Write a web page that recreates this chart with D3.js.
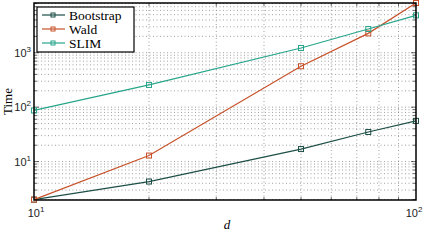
<!DOCTYPE html>
<html>
<head>
<meta charset="utf-8">
<script src="https://cdn.jsdelivr.net/npm/d3@7"></script>
<style>
  body { margin: 0; background: #fff; }
  svg { display: block; }
</style>
</head>
<body>
<svg id="chart" width="424" height="240"></svg>
<script>
// values
var dims = [10, 20, 50, 75, 100];
var seriesNames = ['Bootstrap', 'Wald', 'SLIM'];
var bootstrapTimes = [2, 4.3, 17, 35, 56];
var waldTimes = [2, 12.9, 565, 2270, 8200];
var slimTimes = [87, 256, 1220, 2730, 4860];
var seriesColors = ['#1d4f47', '#c8522a', '#27a58a'];
var xTicks = [10, 100];
var yTicks = [10, 100, 1000];

var svg = d3.select('#chart');
var padding = {t: 3, r: 8, b: 40, l: 34};
var chartWidth = 424 - padding.l - padding.r;
var chartHeight = 240 - padding.t - padding.b;

var xScale = d3.scaleLog().domain([10, 100]).range([0, chartWidth]);
var yScale = d3.scaleLog().domain([1.97, 8200]).range([chartHeight, 0]);

var chartG = svg.append('g')
    .attr('transform', 'translate(' + [padding.l, padding.t] + ')');

// dotted grid on every minor tick
var xGrid = [];
for (var i = 2; i <= 9; i++) xGrid.push(i * 10);
var yGrid = [];
[1, 10, 100, 1000].forEach(function(dec) {
    for (var k = 1; k <= 9; k++) {
        var v = k * dec;
        if (v > yScale.domain()[0] && v < yScale.domain()[1]) yGrid.push(v);
    }
});

chartG.selectAll('.vgrid').data(xGrid).enter().append('line')
    .attr('x1', function(d) { return xScale(d); })
    .attr('x2', function(d) { return xScale(d); })
    .attr('y1', 0).attr('y2', chartHeight)
    .attr('stroke', '#888').attr('stroke-width', 0.8)
    .attr('stroke-dasharray', '1,2.5');

chartG.selectAll('.hgrid').data(yGrid).enter().append('line')
    .attr('x1', 0).attr('x2', chartWidth)
    .attr('y1', function(d) { return yScale(d); })
    .attr('y2', function(d) { return yScale(d); })
    .attr('stroke', '#888').attr('stroke-width', 0.8)
    .attr('stroke-dasharray', '1,2.5');

// small inward ticks on all four sides
var xTickVals = xGrid;
var yTickVals = yGrid;
chartG.selectAll('.xtb').data(xTickVals).enter().append('line')
    .attr('x1', function(d) { return xScale(d); }).attr('x2', function(d) { return xScale(d); })
    .attr('y1', chartHeight).attr('y2', function(d) { return chartHeight - 3; })
    .attr('stroke', '#000').attr('stroke-width', 0.6);
chartG.selectAll('.xtt').data(xTickVals).enter().append('line')
    .attr('x1', function(d) { return xScale(d); }).attr('x2', function(d) { return xScale(d); })
    .attr('y1', 0).attr('y2', 3)
    .attr('stroke', '#000').attr('stroke-width', 0.6);
chartG.selectAll('.ytl').data(yTickVals).enter().append('line')
    .attr('y1', function(d) { return yScale(d); }).attr('y2', function(d) { return yScale(d); })
    .attr('x1', 0).attr('x2', function(d) { return yTicks.indexOf(d) >= 0 ? 5 : 3; })
    .attr('stroke', '#000').attr('stroke-width', 0.6);
chartG.selectAll('.ytr').data(yTickVals).enter().append('line')
    .attr('y1', function(d) { return yScale(d); }).attr('y2', function(d) { return yScale(d); })
    .attr('x1', chartWidth).attr('x2', function(d) { return chartWidth - (yTicks.indexOf(d) >= 0 ? 5 : 3); })
    .attr('stroke', '#000').attr('stroke-width', 0.6);

// series lines
var allSeries = [bootstrapTimes, waldTimes, slimTimes];
var line = d3.line()
    .x(function(d, i) { return xScale(dims[i]); })
    .y(function(d) { return yScale(d); });

allSeries.forEach(function(vals, s) {
    chartG.append('path')
        .datum(vals)
        .attr('d', line)
        .attr('fill', 'none')
        .attr('stroke', seriesColors[s])
        .attr('stroke-width', 1.2);
    chartG.selectAll('.m' + s).data(vals).enter().append('rect')
        .attr('x', function(d, i) { return xScale(dims[i]) - 2.5; })
        .attr('y', function(d) { return yScale(d) - 2.5; })
        .attr('width', 5).attr('height', 5)
        .attr('fill', 'none')
        .attr('stroke', seriesColors[s])
        .attr('stroke-width', 1);
});

// frame
chartG.append('rect')
    .attr('width', chartWidth).attr('height', chartHeight)
    .attr('fill', 'none').attr('stroke', '#000').attr('stroke-width', 1.5);

// tick labels with superscripts
function powLabel(sel, v) {
    var e = Math.round(Math.log10(v));
    sel.append('tspan').text('10');
    sel.append('tspan').attr('dy', -5).attr('font-size', '8px').text(e);
}

yTicks.forEach(function(v) {
    var t = svg.append('text')
        .attr('x', padding.l - 3)
        .attr('y', padding.t + yScale(v) + 4)
        .attr('text-anchor', 'end')
        .attr('font-family', 'Liberation Sans, Arial, sans-serif')
        .attr('font-size', '11px')
        .attr('fill', '#222');
    powLabel(t, v);
});

xTicks.forEach(function(v, i) {
    var t = svg.append('text')
        .attr('x', padding.l + xScale(v) + (i === 0 ? 2 : -2))
        .attr('y', padding.t + chartHeight + 17)
        .attr('text-anchor', 'middle')
        .attr('font-family', 'Liberation Sans, Arial, sans-serif')
        .attr('font-size', '11px')
        .attr('fill', '#222');
    powLabel(t, v);
});

// axis titles
svg.append('text')
    .attr('transform', 'translate(12,' + (padding.t + chartHeight / 2) + ') rotate(-90)')
    .attr('text-anchor', 'middle')
    .attr('font-family', 'Liberation Serif, Times New Roman, serif')
    .attr('font-size', '13px')
    .text('Time');

svg.append('text')
    .attr('x', padding.l + chartWidth / 2 + 2)
    .attr('y', 229)
    .attr('text-anchor', 'middle')
    .attr('font-family', 'Liberation Serif, Times New Roman, serif')
    .attr('font-style', 'italic')
    .attr('font-size', '13px')
    .text('d');

// legend
var legend = svg.append('g').attr('transform', 'translate(37,7)');
legend.append('rect')
    .attr('width', 97).attr('height', 45)
    .attr('fill', '#fff').attr('stroke', '#000').attr('stroke-width', 1.2);
seriesNames.forEach(function(name, s) {
    var y = 8 + s * 14;
    legend.append('line')
        .attr('x1', 5).attr('x2', 28).attr('y1', y).attr('y2', y)
        .attr('stroke', seriesColors[s]).attr('stroke-width', 1.2);
    legend.append('rect')
        .attr('x', 14).attr('y', y - 2).attr('width', 4).attr('height', 4)
        .attr('fill', 'none').attr('stroke', seriesColors[s]).attr('stroke-width', 1);
    legend.append('text')
        .attr('x', 32).attr('y', y + 4.5)
        .attr('font-family', 'Liberation Serif, Times New Roman, serif')
        .attr('font-size', '13.5px')
        .text(name);
});
</script>
</body>
</html>
